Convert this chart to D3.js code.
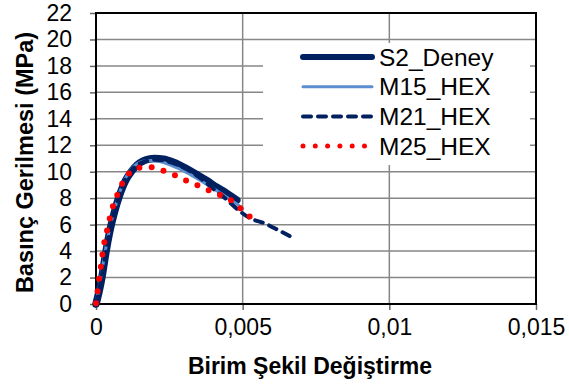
<!DOCTYPE html>
<html>
<head>
<meta charset="utf-8">
<script src="https://cdn.jsdelivr.net/npm/d3@7"></script>
<style>
  body { margin: 0; background: #fff; }
  svg { font-family: "Liberation Sans", Arial, sans-serif; }
</style>
</head>
<body>
<div id="wrapper"></div>
<script>
// strain / stress readings
const s2Strain = [0, 0.0001, 0.0002, 0.0003, 0.0004, 0.0005, 0.0006, 0.0007, 0.0008, 0.0009, 0.001, 0.0012, 0.0014, 0.0016, 0.0018, 0.002, 0.0023, 0.0026, 0.0029, 0.0032, 0.0035, 0.0038, 0.0041, 0.0044, 0.0047, 0.0048];
const s2Stress = [0, 0.9, 2.0, 3.4, 4.7, 5.8, 6.7, 7.5, 8.2, 8.8, 9.3, 10.0, 10.5, 10.8, 10.95, 11.0, 10.95, 10.75, 10.45, 10.1, 9.7, 9.3, 8.85, 8.45, 8.0, 7.85];

const m15Strain = [0, 0.0001, 0.0002, 0.0003, 0.0004, 0.0005, 0.0006, 0.0008, 0.001, 0.0012, 0.0014, 0.0016, 0.0019, 0.0022, 0.0026, 0.003, 0.0034, 0.0038, 0.0042, 0.0046, 0.0049, 0.005];
const m15Stress = [0, 1.2, 2.5, 3.8, 5.0, 6.0, 6.9, 8.4, 9.5, 10.2, 10.6, 10.8, 10.85, 10.75, 10.45, 10.05, 9.55, 9.0, 8.45, 7.85, 7.4, 7.2];

const m21Strain = [0, 0.0001, 0.0002, 0.0003, 0.0004, 0.0005, 0.0006, 0.0008, 0.001, 0.0012, 0.0014, 0.0017, 0.002, 0.0024, 0.0028, 0.0032, 0.0036, 0.004, 0.0044, 0.0048, 0.0052, 0.0058, 0.0062, 0.0068];
const m21Stress = [0, 1.0, 2.2, 3.5, 4.8, 5.9, 6.8, 8.3, 9.4, 10.1, 10.5, 10.8, 10.9, 10.8, 10.5, 10.05, 9.45, 8.7, 8.0, 7.2, 6.55, 6.05, 5.6, 4.9];

const m25Strain = [0, 0.00005, 0.0001, 0.00016, 0.00021, 0.00027, 0.00036, 0.00045, 0.00055, 0.0007, 0.00087, 0.0011, 0.00144, 0.00184, 0.00226, 0.00263, 0.003, 0.00339, 0.00376, 0.00416, 0.00456, 0.00487, 0.00518, 0.00555];
const m25Stress = [0.05, 0.9, 1.8, 2.75, 3.6, 4.5, 5.4, 6.3, 7.2, 8.1, 9.0, 9.8, 10.3, 10.35, 10.1, 9.8, 9.4, 9.05, 8.67, 8.3, 7.9, 7.35, 6.7, 6.3];

const seriesNames = ["S2_Deney", "M15_HEX", "M21_HEX", "M25_HEX"];
const xTicks = [0, 0.005, 0.01, 0.015];
const xTickLabels = ["0", "0,005", "0,01", "0,015"];
const yTicks = d3.range(0, 23, 2);

const dim = { width: 569, height: 385, margin: { top: 13, right: 33, bottom: 81, left: 96 } };
dim.boundedWidth = dim.width - dim.margin.left - dim.margin.right;
dim.boundedHeight = dim.height - dim.margin.top - dim.margin.bottom;

const svg = d3.select("#wrapper").append("svg")
    .attr("width", dim.width)
    .attr("height", dim.height);

const bounds = svg.append("g")
    .attr("transform", `translate(${dim.margin.left},${dim.margin.top})`);

const xScale = d3.scaleLinear().domain([0, 0.015]).range([0, dim.boundedWidth]);
const yScale = d3.scaleLinear().domain([0, 22]).range([dim.boundedHeight, 0]);

// grid
bounds.append("g").selectAll("line").data(yTicks).join("line")
    .attr("x1", 0).attr("x2", dim.boundedWidth)
    .attr("y1", d => yScale(d)).attr("y2", d => yScale(d))
    .attr("stroke", "#878787").attr("stroke-width", 1.5);
bounds.append("g").selectAll("line").data(xTicks.slice(1)).join("line")
    .attr("x1", d => xScale(d)).attr("x2", d => xScale(d))
    .attr("y1", 0).attr("y2", dim.boundedHeight)
    .attr("stroke", "#878787").attr("stroke-width", 1.5);

// axes
const yAxis = bounds.append("g")
    .call(d3.axisLeft(yScale).tickValues(yTicks).tickSize(6).tickPadding(18));
const xAxis = bounds.append("g")
    .attr("transform", `translate(0,${dim.boundedHeight})`)
    .call(d3.axisBottom(xScale).tickValues(xTicks).tickFormat((d, i) => xTickLabels[i]).tickSize(6).tickPadding(9));
[yAxis, xAxis].forEach(ax => {
    ax.select(".domain").remove();
    ax.selectAll(".tick line").attr("stroke", "#666").attr("stroke-width", 1.5);
    ax.selectAll("text").attr("font-size", 23).attr("fill", "#000")
        .attr("font-family", "'Liberation Sans', Arial, sans-serif");
});

// plot frame
bounds.append("rect")
    .attr("width", dim.boundedWidth).attr("height", dim.boundedHeight)
    .attr("fill", "none").attr("stroke", "#000").attr("stroke-width", 2);

const line = d3.line()
    .x(d => xScale(d[0]))
    .y(d => yScale(d[1]))
    .curve(d3.curveMonotoneX);

const styles = [
    { color: "#002060", width: 7.5, dash: null, cap: "round" },
    { color: "#5B8FD0", width: 3, dash: null, cap: "round" },
    { color: "#002060", width: 4, dash: "8,7", cap: "round" },
    { color: "#FF0000", width: 6, dash: "0,12.3", cap: "round" }
];
const series = [
    d3.zip(s2Strain, s2Stress),
    d3.zip(m15Strain, m15Stress),
    d3.zip(m21Strain, m21Stress),
    d3.zip(m25Strain, m25Stress)
];

series.forEach((data, i) => {
    bounds.append("path")
        .attr("fill", "none")
        .attr("stroke", styles[i].color)
        .attr("stroke-width", styles[i].width)
        .attr("stroke-linecap", styles[i].cap)
        .attr("stroke-linejoin", "round")
        .attr("stroke-dasharray", styles[i].dash)
        .attr("d", line(data));
});

// legend
const legend = svg.append("g").attr("transform", "translate(263,43)");
legend.append("rect").attr("width", 267).attr("height", 122).attr("fill", "#fff");
seriesNames.forEach((name, i) => {
    const y = 14 + i * 29.7;
    legend.append("line")
        .attr("x1", 40).attr("x2", 109)
        .attr("y1", y).attr("y2", y)
        .attr("stroke", styles[i].color)
        .attr("stroke-width", i === 0 ? 6 : (i === 3 ? 5 : styles[i].width))
        .attr("stroke-linecap", styles[i].cap)
        .attr("stroke-dasharray", styles[i].dash);
    legend.append("text")
        .attr("x", 116).attr("y", y + 8.5)
        .attr("font-size", 24.5)
        .text(name);
});

// axis titles
svg.append("text")
    .attr("x", dim.margin.left + dim.boundedWidth / 2 - 6)
    .attr("y", 374)
    .attr("text-anchor", "middle")
    .attr("font-size", 23).attr("font-weight", "bold")
    .text("Birim Şekil Değiştirme");
svg.append("text")
    .attr("transform", `translate(33,${dim.margin.top + dim.boundedHeight / 2 + 4}) rotate(-90)`)
    .attr("text-anchor", "middle")
    .attr("font-size", 23.5).attr("font-weight", "bold")
    .text("Basınç Gerilmesi (MPa)");
</script>
</body>
</html>
